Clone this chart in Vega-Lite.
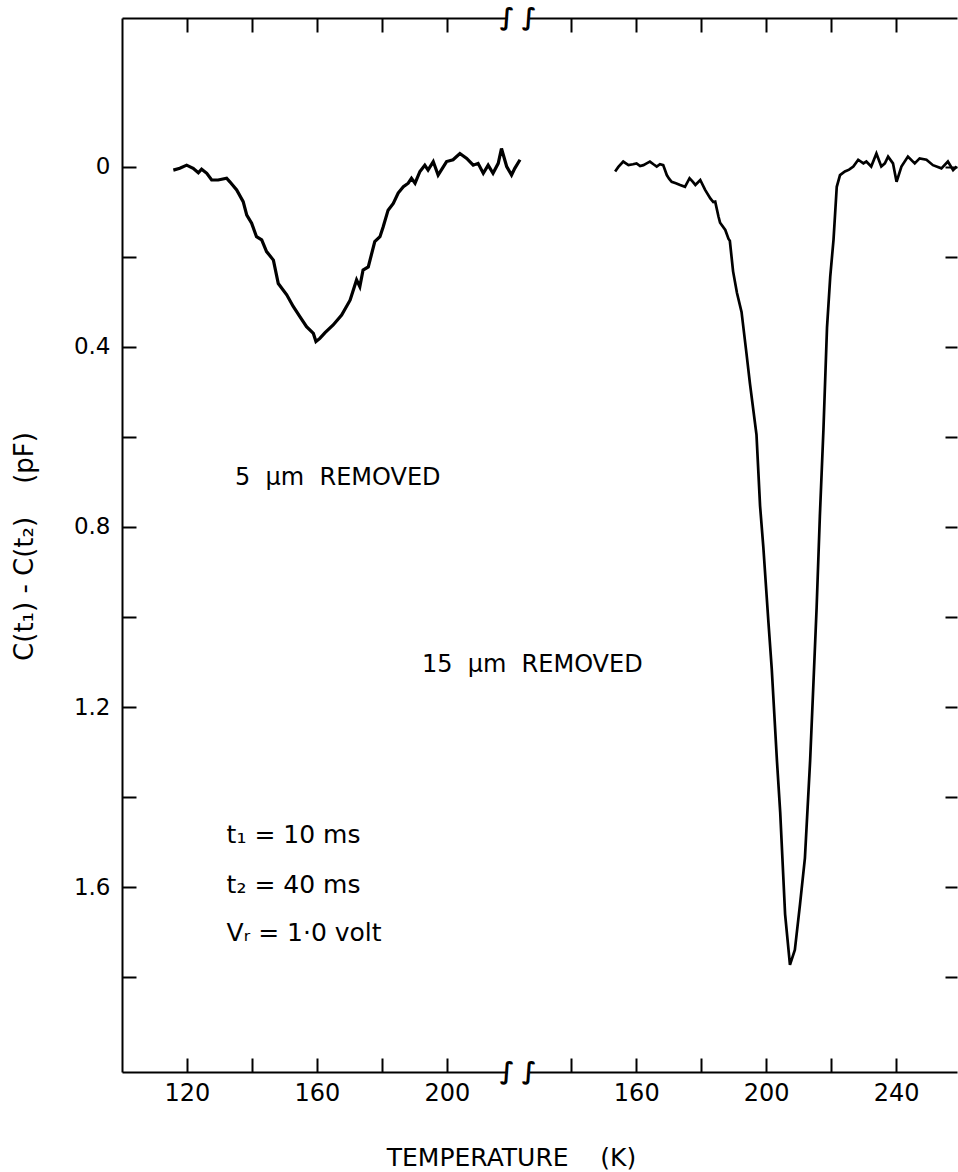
{
  "$schema": "https://vega.github.io/schema/vega-lite/v6.json",
  "padding": {"left": 11, "top": 6, "right": 0, "bottom": 0},
  "background": "white",
  "bounds": "flush",
  "spacing": 22,
  "resolve": {"scale": {"x": "independent", "y": "independent"}},
  "config": {
    "view": {"stroke": null},
    "font": "DejaVu Sans",
    "axis": {
      "grid": false,
      "domainColor": "black",
      "tickColor": "black",
      "labelColor": "black",
      "titleColor": "black",
      "domainWidth": 2,
      "tickWidth": 2,
      "labelFont": "DejaVu Sans",
      "titleFont": "DejaVu Sans",
      "labelFontSize": 24,
      "titleFontWeight": "normal"
    },
    "text": {"font": "DejaVu Sans", "color": "black"}
  },
  "datasets": {
    "left": [
      {"T": 115.8, "v": 0.007}, {"T": 117.8, "v": 0.003}, {"T": 119.9, "v": -0.004}, {"T": 121.9, "v": 0.003},
      {"T": 123.5, "v": 0.013}, {"T": 124.5, "v": 0.005}, {"T": 126.1, "v": 0.014}, {"T": 127.6, "v": 0.029},
      {"T": 129.6, "v": 0.029}, {"T": 132.2, "v": 0.025}, {"T": 133.2, "v": 0.033}, {"T": 135.3, "v": 0.051},
      {"T": 137.3, "v": 0.077}, {"T": 138.4, "v": 0.107}, {"T": 139.9, "v": 0.125}, {"T": 141.4, "v": 0.155},
      {"T": 143.0, "v": 0.162}, {"T": 144.5, "v": 0.188}, {"T": 146.6, "v": 0.207}, {"T": 148.1, "v": 0.259},
      {"T": 150.7, "v": 0.284}, {"T": 152.7, "v": 0.310}, {"T": 154.8, "v": 0.333}, {"T": 156.8, "v": 0.355},
      {"T": 158.9, "v": 0.370}, {"T": 159.7, "v": 0.388}, {"T": 160.9, "v": 0.381}, {"T": 162.5, "v": 0.368},
      {"T": 165.0, "v": 0.351}, {"T": 167.6, "v": 0.329}, {"T": 170.2, "v": 0.296}, {"T": 172.2, "v": 0.251},
      {"T": 173.2, "v": 0.266}, {"T": 174.2, "v": 0.229}, {"T": 175.8, "v": 0.222}, {"T": 177.8, "v": 0.166},
      {"T": 179.4, "v": 0.155}, {"T": 180.4, "v": 0.133}, {"T": 181.9, "v": 0.096}, {"T": 183.5, "v": 0.081},
      {"T": 185.0, "v": 0.058}, {"T": 186.6, "v": 0.044}, {"T": 188.1, "v": 0.036}, {"T": 189.1, "v": 0.025},
      {"T": 190.2, "v": 0.036}, {"T": 191.7, "v": 0.010}, {"T": 193.2, "v": -0.004}, {"T": 194.2, "v": 0.007},
      {"T": 195.8, "v": -0.012}, {"T": 197.3, "v": 0.018}, {"T": 199.9, "v": -0.012}, {"T": 201.9, "v": -0.016},
      {"T": 204.0, "v": -0.030}, {"T": 206.1, "v": -0.019}, {"T": 208.1, "v": -0.004}, {"T": 209.6, "v": -0.008},
      {"T": 211.2, "v": 0.014}, {"T": 212.7, "v": -0.004}, {"T": 214.2, "v": 0.014}, {"T": 215.8, "v": -0.008},
      {"T": 216.8, "v": -0.041}, {"T": 218.4, "v": -0.001}, {"T": 219.9, "v": 0.018}, {"T": 220.9, "v": 0.003},
      {"T": 222.5, "v": -0.016}
    ],
    "right": [
      {"T": 153.5, "v": 0.010}, {"T": 154.5, "v": 0.000}, {"T": 156.0, "v": -0.012}, {"T": 157.6, "v": -0.004},
      {"T": 159.0, "v": -0.006}, {"T": 160.1, "v": -0.008}, {"T": 161.2, "v": -0.002}, {"T": 162.2, "v": -0.004},
      {"T": 163.2, "v": -0.008}, {"T": 164.2, "v": -0.012}, {"T": 165.3, "v": -0.006}, {"T": 166.3, "v": -0.001},
      {"T": 167.3, "v": -0.006}, {"T": 168.3, "v": -0.004}, {"T": 169.4, "v": 0.018}, {"T": 170.1, "v": 0.026},
      {"T": 170.9, "v": 0.033}, {"T": 172.2, "v": 0.036}, {"T": 173.5, "v": 0.040}, {"T": 175.0, "v": 0.044},
      {"T": 176.4, "v": 0.025}, {"T": 177.3, "v": 0.032}, {"T": 178.2, "v": 0.040}, {"T": 179.7, "v": 0.029},
      {"T": 181.2, "v": 0.051}, {"T": 182.8, "v": 0.070}, {"T": 183.7, "v": 0.078}, {"T": 184.3, "v": 0.077},
      {"T": 185.3, "v": 0.110}, {"T": 185.8, "v": 0.124}, {"T": 187.4, "v": 0.140}, {"T": 188.4, "v": 0.160},
      {"T": 188.8, "v": 0.164}, {"T": 189.8, "v": 0.232}, {"T": 191.0, "v": 0.280}, {"T": 192.4, "v": 0.322},
      {"T": 193.9, "v": 0.413}, {"T": 195.0, "v": 0.482}, {"T": 197.0, "v": 0.595}, {"T": 198.1, "v": 0.753},
      {"T": 199.1, "v": 0.844}, {"T": 200.7, "v": 1.014}, {"T": 201.7, "v": 1.116}, {"T": 203.3, "v": 1.320},
      {"T": 204.3, "v": 1.434}, {"T": 205.8, "v": 1.660}, {"T": 207.3, "v": 1.773}, {"T": 208.8, "v": 1.740},
      {"T": 210.4, "v": 1.638}, {"T": 211.9, "v": 1.536}, {"T": 213.5, "v": 1.320}, {"T": 214.5, "v": 1.151},
      {"T": 215.5, "v": 0.980}, {"T": 216.5, "v": 0.776}, {"T": 217.6, "v": 0.584}, {"T": 218.7, "v": 0.357},
      {"T": 219.7, "v": 0.243}, {"T": 220.7, "v": 0.162}, {"T": 221.7, "v": 0.044}, {"T": 222.7, "v": 0.018},
      {"T": 224.2, "v": 0.010}, {"T": 225.5, "v": 0.006}, {"T": 226.8, "v": -0.001}, {"T": 228.3, "v": -0.016},
      {"T": 229.9, "v": -0.008}, {"T": 230.8, "v": -0.012}, {"T": 232.3, "v": -0.001}, {"T": 233.9, "v": -0.030},
      {"T": 235.4, "v": -0.001}, {"T": 236.5, "v": -0.008}, {"T": 237.5, "v": -0.023}, {"T": 239.0, "v": -0.008},
      {"T": 240.1, "v": 0.033}, {"T": 241.6, "v": -0.001}, {"T": 243.6, "v": -0.023}, {"T": 245.7, "v": -0.008},
      {"T": 247.2, "v": -0.019}, {"T": 249.3, "v": -0.016}, {"T": 251.3, "v": -0.004}, {"T": 253.9, "v": 0.003},
      {"T": 255.9, "v": -0.012}, {"T": 257.5, "v": 0.007}, {"T": 258.6, "v": -0.001}
    ],
    "breaksL": [
      {"T": 218.5, "v": -0.331, "s": "∫"},
      {"T": 218.5, "v": 2.011, "s": "∫"}
    ],
    "breaksR": [
      {"T": 127, "v": -0.331, "s": "∫"},
      {"T": 127, "v": 2.011, "s": "∫"}
    ],
    "notesA": [
      {"T": 134.8, "v": 0.691, "label": "5\u00a0\u00a0μm\u00a0\u00a0REMOVED"},
      {"T": 192.3, "v": 1.107, "label": "15\u00a0\u00a0μm\u00a0\u00a0REMOVED"}
    ],
    "notesB": [
      {"T": 132.2, "v": 1.484, "label": "t₁ = 10 ms"},
      {"T": 132.2, "v": 1.596, "label": "t₂ = 40 ms"},
      {"T": 132.2, "v": 1.702, "label": "Vᵣ = 1·0 volt"}
    ]
  },
  "hconcat": [
    {
      "width": 385,
      "height": 1054,
      "resolve": {"axis": {"x": "independent"}},
      "layer": [
        {
          "data": {"name": "left"},
          "mark": {"type": "line", "color": "black", "strokeWidth": 3.2, "clip": false},
          "encoding": {
            "x": {
              "field": "T", "type": "quantitative",
              "scale": {"domain": [100, 218.5], "nice": false, "zero": false},
              "axis": {
                "orient": "bottom", "values": [120, 140, 160, 180, 200],
                "tickSize": -14, "labelPadding": 23,
                "labelExpr": "datum.value % 40 == 0 ? datum.label : ''",
                "title": "TEMPERATURE\u00a0\u00a0\u00a0\u00a0(K)", "titleFontSize": 25,
                "titleX": 389, "titleY": 85, "titleAlign": "center", "titleBaseline": "middle"
              }
            },
            "y": {
              "field": "v", "type": "quantitative",
              "scale": {"domain": [-0.331, 2.011], "reverse": true, "nice": false, "zero": false},
              "axis": {
                "orient": "left", "values": [0, 0.2, 0.4, 0.6, 0.8, 1.0, 1.2, 1.4, 1.6, 1.8],
                "format": "~g", "labelFontSize": 23,
                "labelExpr": "round(datum.value * 10) % 4 == 0 ? datum.label : ''",
                "tickSize": -14, "labelPadding": 26,
                "title": "C(t₁)\u00a0-\u00a0C(t₂)\u00a0\u00a0\u00a0\u00a0(pF)", "titleFontSize": 26,
                "titleX": -98, "titleY": 528, "titleAngle": -90,
                "titleAlign": "center", "titleBaseline": "middle"
              }
            }
          }
        },
        {
          "data": {"name": "breaksL"},
          "mark": {"type": "text", "fontSize": 24, "fontWeight": "bold", "baseline": "middle", "align": "center"},
          "encoding": {
            "x": {
              "field": "T", "type": "quantitative",
              "axis": {"orient": "top", "values": [120, 140, 160, 180, 200], "labels": false, "tickSize": -14, "title": null}
            },
            "y": {"field": "v", "type": "quantitative"},
            "text": {"field": "s"}
          }
        },
        {
          "data": {"name": "notesA"},
          "mark": {"type": "text", "fontSize": 24, "baseline": "middle", "align": "left"},
          "encoding": {
            "x": {"field": "T", "type": "quantitative", "axis": null},
            "y": {"field": "v", "type": "quantitative"},
            "text": {"field": "label"}
          }
        },
        {
          "data": {"name": "notesB"},
          "mark": {"type": "text", "fontSize": 25, "baseline": "middle", "align": "left"},
          "encoding": {
            "x": {"field": "T", "type": "quantitative", "axis": null},
            "y": {"field": "v", "type": "quantitative"},
            "text": {"field": "label"}
          }
        }
      ]
    },
    {
      "width": 428,
      "height": 1054,
      "resolve": {"axis": {"x": "independent"}},
      "layer": [
        {
          "data": {"name": "right"},
          "mark": {"type": "line", "color": "black", "strokeWidth": 2.7, "clip": false},
          "encoding": {
            "x": {
              "field": "T", "type": "quantitative",
              "scale": {"domain": [127, 258.7], "nice": false, "zero": false},
              "axis": {
                "orient": "bottom", "values": [140, 160, 180, 200, 220, 240],
                "tickSize": -14, "labelPadding": 23,
                "labelExpr": "datum.value % 40 == 0 ? datum.label : ''",
                "title": null
              }
            },
            "y": {
              "field": "v", "type": "quantitative",
              "scale": {"domain": [-0.331, 2.011], "reverse": true, "nice": false, "zero": false},
              "axis": {
                "orient": "right", "values": [0, 0.2, 0.4, 0.6, 0.8, 1.0, 1.2, 1.4, 1.6, 1.8],
                "labels": false, "domain": false, "tickSize": -12, "title": null
              }
            }
          }
        },
        {
          "data": {"name": "breaksR"},
          "mark": {"type": "text", "fontSize": 24, "fontWeight": "bold", "baseline": "middle", "align": "center"},
          "encoding": {
            "x": {
              "field": "T", "type": "quantitative",
              "axis": {"orient": "top", "values": [140, 160, 180, 200, 220, 240], "labels": false, "tickSize": -14, "title": null}
            },
            "y": {"field": "v", "type": "quantitative"},
            "text": {"field": "s"}
          }
        }
      ]
    }
  ]
}
